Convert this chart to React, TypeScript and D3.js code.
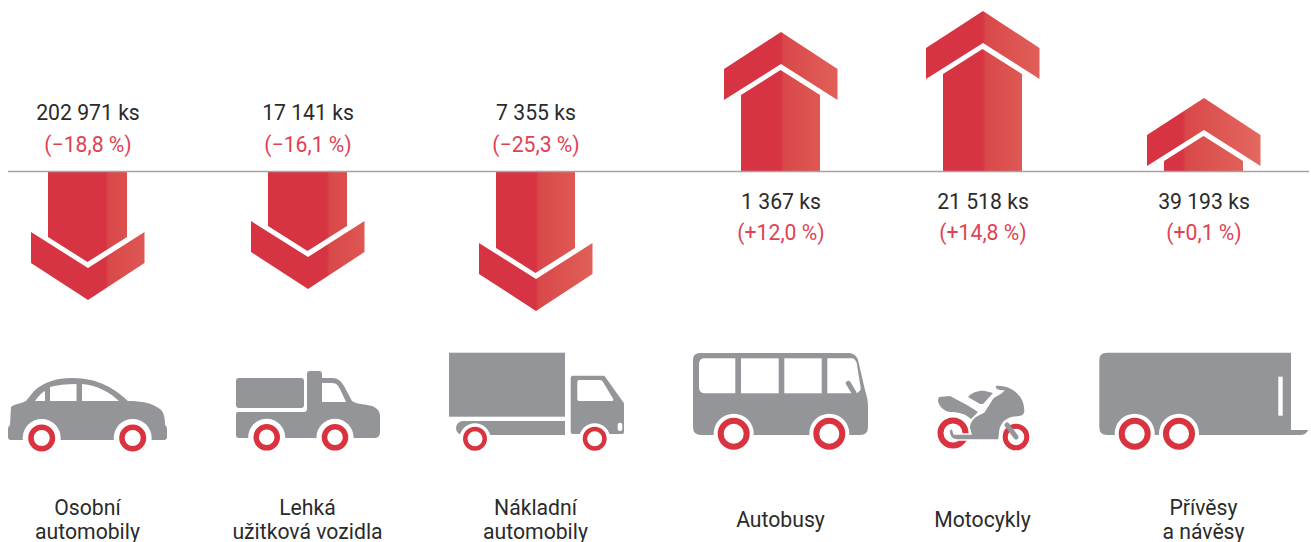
import React from "react";
import * as d3 from "d3";

// registered vehicles per category and the change against last year
const categories = ["car", "van", "truck", "bus", "moto", "trailer"];
const labels = [
  ["Osobní", "automobily"],
  ["Lehká", "užitková vozidla"],
  ["Nákladní", "automobily"],
  ["Autobusy"],
  ["Motocykly"],
  ["Přívěsy", "a návěsy"],
];
const units = [202971, 17141, 7355, 1367, 21518, 39193];
const changes = [-18.8, -16.1, -25.3, 12.0, 14.8, 0.1];

const GREY = "#949599";
const RED = "#d93340";
const TEXT_RED = "#df4253";
const INK = "#2b2b2b";
const baseline = 171.5;

const x = d3.scaleOrdinal<string, number>().domain(categories).range([88, 308, 536, 781, 983, 1204]);
// where the shading of each arrow starts
const shadeStart = d3.scaleOrdinal<string, number>().domain(categories).range([106, 327, 536, 781, 983, 1183]);

// the arrows are not to one scale in the original, so each direction gets its own
const upLength = d3.scaleLinear().domain([0.1, 12, 14.8]).range([73.5, 139.5, 160.5]);
const downLength = d3.scaleLinear().domain([16.1, 18.8, 25.3]).range([117.5, 128.5, 139.5]);

const locale = d3.formatLocale({
  decimal: ",",
  thousands: "\u00a0",
  grouping: [3],
  currency: ["", ""],
  minus: "\u2212",
});
const fmtUnits = locale.format(",d");
const fmtChange = locale.format("+.1f");

const line = d3.line();

const arrowParts = (cx: number, change: number) => {
  const dir = change < 0 ? 1 : -1;
  const len = change < 0 ? downLength(-change) : upLength(change);
  const tip = baseline + dir * len;
  const y = (back: number) => tip - dir * back;
  const base = baseline + (dir > 0 ? 0.5 : 0);
  const shaft: [number, number][] = [
    [cx - 40, base],
    [cx - 40, y(63)],
    [cx - 0.5, y(38)],
    [cx + 39, y(63)],
    [cx + 39, base],
  ];
  const head: [number, number][] = [
    [cx, tip],
    [cx + 56.5, y(37)],
    [cx + 56.5, y(68)],
    [cx, y(32)],
    [cx - 57, y(68)],
    [cx - 57, y(37)],
  ];
  return { shaft: line(shaft) + "Z", head: line(head) + "Z" };
};

const Wheel = ({ cx, cy, r, w, arch }: { cx: number; cy: number; r: number; w: number; arch?: number }) => (
  <g>
    {arch ? <circle cx={cx} cy={cy} r={arch} fill="#fff" /> : null}
    <circle cx={cx} cy={cy} r={r - w / 2} fill="#fff" stroke={RED} strokeWidth={w} />
  </g>
);

const Car = () => (
  <g>
    <path
      fill={GREY}
      d="M8,429 L8,437 Q8,440 11,440 L164,440 Q167,440 167,437 L167,429 Q167,426 165,425 C165,418 164,412 160,409 C152,403 142,401 128,401 C116,390 100,378 72,378 C56,378 44,382 34,391 L26,401 C20,404 14,404 11,407 L10,425 Q8,426 8,429Z"
    />
    <path fill="#fff" d="M35,401 L45,401 L45,391 C41,393 38,397 35,401Z" />
    <path fill="#fff" d="M50,401 L76.5,401 L76.5,384 C66,384 57,385 50,387Z" />
    <path fill="#fff" d="M82,401 L119,401 C110,393 98,385 82,384Z" />
    <Wheel cx={41.7} cy={438} r={13.5} w={5.5} arch={19} />
    <Wheel cx={132.7} cy={438} r={13.5} w={5.5} arch={19} />
  </g>
);

const Van = () => (
  <g>
    <rect x={236} y={378} width={68} height={30} rx={3} fill={GREY} />
    <path
      fill={GREY}
      d="M238,412 L304,412 Q307,412 307,409 L307,374 Q307,371 310,371 L319,371 Q322,371 322,374 L322,378 L332,378 C338,378 341,381 344,386 L352,401 C358,405 366,404 372,406 C377,408 380,411 380,416 L380,432 Q380,438 374,438 L239,438 Q236,438 236,435 L236,414 Q236,412 238,412Z"
    />
    <path fill="#fff" d="M322,383 L332,383 C337,383 338,386 340,389 L346,402 L322,402Z" />
    <Wheel cx={266.7} cy={437.3} r={13.3} w={5.5} arch={18.5} />
    <Wheel cx={335} cy={437.3} r={13.3} w={5.5} arch={18.5} />
  </g>
);

const Truck = () => (
  <g>
    <rect x={449} y={352.7} width={116} height={64} fill={GREY} />
    <path fill={GREY} d="M463,421 L565,421 L565,435 L463,435 A7,7 0 0 1 463,421Z" />
    <path
      fill={GREY}
      d="M573,375.7 L603,375.7 Q605,375.7 606,378 L624,403.3 L624,432 Q624,434 622,434 L573,434 Q570.7,434 570.7,432 L570.7,378 Q570.7,375.7 573,375.7Z"
    />
    <path fill="#fff" d="M579,380 L600,380 Q602,380 603,382 L613.3,399 Q614,401 612,401 L579,401 Q577.3,401 577.3,399 L577.3,382 Q577.3,380 579,380Z" />
    <rect x={617.7} y={422.7} width={4.6} height={8.3} rx={2} fill="#fff" />
    <Wheel cx={475} cy={438.7} r={12} w={4.5} arch={15.5} />
    <Wheel cx={594.7} cy={438.7} r={12} w={4.5} arch={15.5} />
  </g>
);

const Bus = () => (
  <g>
    <path
      fill={GREY}
      d="M693,360 Q693,353 700,353 L849,353 C853,353 857,356 858,360 L865,390 C867,397 868,400 868,408 L868,427 Q868,435 860,435 L701,435 Q693,435 693,427Z"
    />
    <path fill="#fff" d="M705,358.3 L735.3,358.3 L735.3,393.3 L705,393.3 Q699,393.3 699,387 L699,364 Q699,358.3 705,358.3Z" />
    <rect x={741} y={358.3} width={37.7} height={35} fill="#fff" />
    <rect x={784.3} y={358.3} width={37.4} height={35} fill="#fff" />
    <path fill="#fff" d="M827.3,358.3 L851.7,358.3 Q855,358.3 856.7,363 L860.7,388 Q861,391 856.7,393.3 L827.3,393.3Z" />
    <path d="M848.3,383.3 L854,392.7" stroke={GREY} strokeWidth={5} strokeLinecap="round" />
    <Wheel cx={733.7} cy={433.7} r={16} w={6} arch={20} />
    <Wheel cx={829.3} cy={433.7} r={16} w={6} arch={20} />
  </g>
);

const Moto = () => (
  <g>
    <path fill={GREY} d="M939,397 L950,396 L967,405 L978,412 L971,419 C965,414 960,412 950,412 C943,411 938,405 938,400Z" />
    <path fill={GREY} d="M968,397 C972,392 980,390 985,391 L993,393 L983,404 L980,404Z" />
    <Wheel cx={953} cy={433} r={15.5} w={6} arch={17.5} />
    <Wheel cx={1016} cy={437} r={13.3} w={5} />
    <path d="M1007,425 L1016,437" stroke={GREY} strokeWidth={5} strokeLinecap="round" />
    <path
      fill={GREY}
      stroke="#fff"
      strokeWidth={1.5}
      d="M996,385 C1012,384 1026,396 1025,412 Q1024,417 1018,417 C1008,417 1002,422 1000,430 L999,440 L957,440 C952,440 949,436 949,431 Q951,427 953,430 L954,434 L971,434 L969,427 C970,422 972,419 976,416 L984,412 L992,399 C994,396 998,395 1001,393 L1003,391 Q998,391 996,389 Q994,387 996,385Z"
    />
  </g>
);

const Trailer = () => (
  <g>
    <path
      fill={GREY}
      d="M1107,352.7 L1291,352.7 L1291,430 L1308.3,430 C1307,433 1304,435 1300,435 L1107,435 Q1099.3,435 1099.3,427 L1099.3,360 Q1099.3,352.7 1107,352.7Z"
    />
    <rect x={1278.3} y={376.7} width={4.4} height={39} fill="#fff" />
    <Wheel cx={1134.7} cy={433.7} r={16} w={6} arch={20} />
    <Wheel cx={1179} cy={433.7} r={16} w={6} arch={20} />
  </g>
);

const icons: Record<string, React.ReactNode> = {
  car: <Car />,
  van: <Van />,
  truck: <Truck />,
  bus: <Bus />,
  moto: <Moto />,
  trailer: <Trailer />,
};

export default function App() {
  const font = "Roboto, sans-serif";
  return (
    <svg
      width={1311}
      height={542}
      viewBox="0 0 1311 542"
      style={{ position: "absolute", left: 0, top: 0, display: "block" }}
    >
      <defs>
        {categories.map(c => {
          const s = shadeStart(c);
          return (
            <linearGradient key={c} id={`shade-${c}`} gradientUnits="userSpaceOnUse" x1={s} x2={s + 78} y1={0} y2={0}>
              <stop offset="0" stopColor="#d73443" />
              <stop offset="0.03" stopColor="#d94849" />
              <stop offset="1" stopColor="#e3695f" />
            </linearGradient>
          );
        })}
      </defs>

      {categories.map((c, i) => {
        const { shaft, head } = arrowParts(x(c), changes[i]);
        return (
          <g key={c} fill={`url(#shade-${c})`}>
            <path d={shaft} />
            <path d={head} />
          </g>
        );
      })}

      <line x1={8} x2={1309} y1={baseline} y2={baseline} stroke="#a3a3a3" strokeWidth={1.3} />

      <g fontFamily={font} fontSize={21.2} textAnchor="middle">
        {categories.map((c, i) => {
          const down = changes[i] < 0;
          return (
            <g key={c} transform={`translate(${x(c)},0)`}>
              <text y={down ? 119.5 : 208.5} fill={INK}>
                {fmtUnits(units[i])} ks
              </text>
              <text y={down ? 152 : 240} fill={TEXT_RED}>
                ({fmtChange(changes[i])}&nbsp;%)
              </text>
            </g>
          );
        })}
      </g>

      {categories.map(c => (
        <g key={c}>{icons[c]}</g>
      ))}

      <g fontFamily={font} fontSize={21.2} textAnchor="middle" fill={INK}>
        {categories.map((c, i) => {
          const rows = labels[i];
          return (
            <text key={c} x={x(c) - 0.5} y={rows.length > 1 ? 515 : 527}>
              {rows.map((r, k) => (
                <tspan key={r} x={x(c) - 0.5} dy={k ? 24 : 0}>
                  {r}
                </tspan>
              ))}
            </text>
          );
        })}
      </g>
    </svg>
  );
}
